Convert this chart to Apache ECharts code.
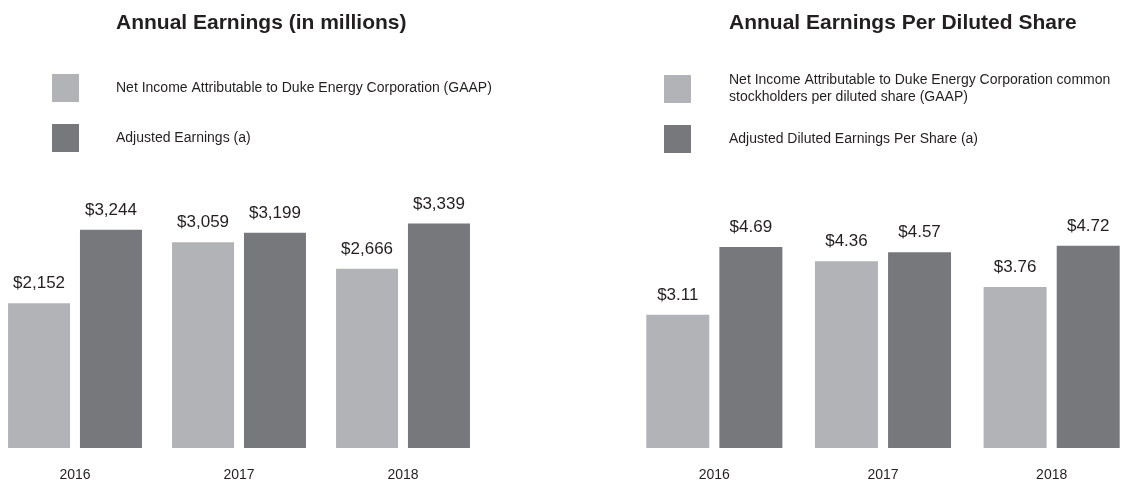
<!DOCTYPE html>
<html>
<head>
<meta charset="utf-8">
<script src="https://cdn.jsdelivr.net/npm/echarts@6/dist/echarts.min.js"></script>
<style>
  html, body { margin: 0; padding: 0; background: #fff; }
  #chart { width: 1145px; height: 482px; }
</style>
</head>
<body>
<div id="chart"></div>
<script>
var years = ['2016', '2017', '2018'];
// left: in millions
var netIncome = [2152, 3059, 2666];
var adjEarnings = [3244, 3199, 3339];
// right: per diluted share
var gaapEps = [3.11, 4.36, 3.76];
var adjEps = [4.69, 4.57, 4.72];

var leftNames = ['Net Income Attributable to Duke Energy Corporation (GAAP)', 'Adjusted Earnings (a)'];
var rightNames = ['Net Income Attributable to Duke Energy Corporation common\nstockholders per diluted share (GAAP)', 'Adjusted Diluted Earnings Per Share (a)'];

var light = '#b2b3b6';
var dark = '#77787c';
var txt = '#231f20';
var font = "'Liberation Sans', Arial, sans-serif";

var chart = echarts.init(document.getElementById('chart'));

function money(v) {
  return '$' + v.toLocaleString('en-US');
}
function share(v) {
  return '$' + v.toFixed(2);
}

function xAx(gridIndex, boundaryGap) {
  return {
    type: 'category',
    gridIndex: gridIndex,
    data: years,
    boundaryGap: boundaryGap,
    axisLine: { show: false },
    axisTick: { show: false },
    axisLabel: { color: txt, fontSize: 14, fontFamily: font, margin: 20 }
  };
}
function yAx(gridIndex, max) {
  return {
    type: 'value',
    gridIndex: gridIndex,
    min: 0,
    max: max,
    show: false,
    splitLine: { show: false }
  };
}
function barLabel(fmt) {
  return {
    show: true,
    position: 'top',
    distance: 11,
    color: txt,
    fontSize: 17,
    fontFamily: font,
    formatter: function (p) { return fmt(p.value); }
  };
}

chart.setOption({
  animation: false,
  backgroundColor: '#fff',
  textStyle: { fontFamily: font },
  title: [
    {
      text: 'Annual Earnings (in millions)',
      left: 116, top: 13, padding: 0,
      textStyle: { color: txt, fontSize: 21, fontWeight: 'bold', fontFamily: font }
    },
    {
      text: 'Annual Earnings Per Diluted Share',
      left: 729, top: 13, padding: 0,
      textStyle: { color: txt, fontSize: 21, fontWeight: 'bold', fontFamily: font }
    }
  ],
  legend: [
    {
      data: leftNames,
      orient: 'vertical',
      left: 52, top: 74, padding: 0,
      itemWidth: 27, itemHeight: 28, itemGap: 22,
      icon: 'rect',
      selectedMode: false,
      textStyle: { color: txt, fontSize: 14, fontFamily: font, padding: [0, 0, 0, 32] }
    },
    {
      data: rightNames,
      orient: 'vertical',
      left: 664, top: 72, padding: 0,
      itemWidth: 27, itemHeight: 28, itemGap: 19,
      icon: 'rect',
      selectedMode: false,
      textStyle: { color: txt, fontSize: 14, lineHeight: 17, fontFamily: font, padding: [0, 0, 0, 33] }
    }
  ],
  grid: [
    // categories sit on the grid edges (boundaryGap off) so the left chart can start near x=8
    { left: 75, width: 328, top: 179, bottom: 33 },
    { left: 630, width: 506, top: 191, bottom: 33 }
  ],
  xAxis: [xAx(0, false), xAx(1, true)],
  yAxis: [yAx(0, 4000), yAx(1, 6)],
  series: [
    {
      name: leftNames[0], type: 'bar', xAxisIndex: 0, yAxisIndex: 0,
      data: netIncome, barWidth: 62, barGap: '16%', clip: false,
      itemStyle: { color: light }, label: barLabel(money)
    },
    {
      name: leftNames[1], type: 'bar', xAxisIndex: 0, yAxisIndex: 0,
      data: adjEarnings, barWidth: 62, barGap: '16%', clip: false,
      itemStyle: { color: dark }, label: barLabel(money)
    },
    {
      name: rightNames[0], type: 'bar', xAxisIndex: 1, yAxisIndex: 1,
      data: gaapEps, barWidth: 63, barGap: '16%',
      itemStyle: { color: light }, label: barLabel(share)
    },
    {
      name: rightNames[1], type: 'bar', xAxisIndex: 1, yAxisIndex: 1,
      data: adjEps, barWidth: 63, barGap: '16%',
      itemStyle: { color: dark }, label: barLabel(share)
    }
  ]
});
</script>
</body>
</html>
